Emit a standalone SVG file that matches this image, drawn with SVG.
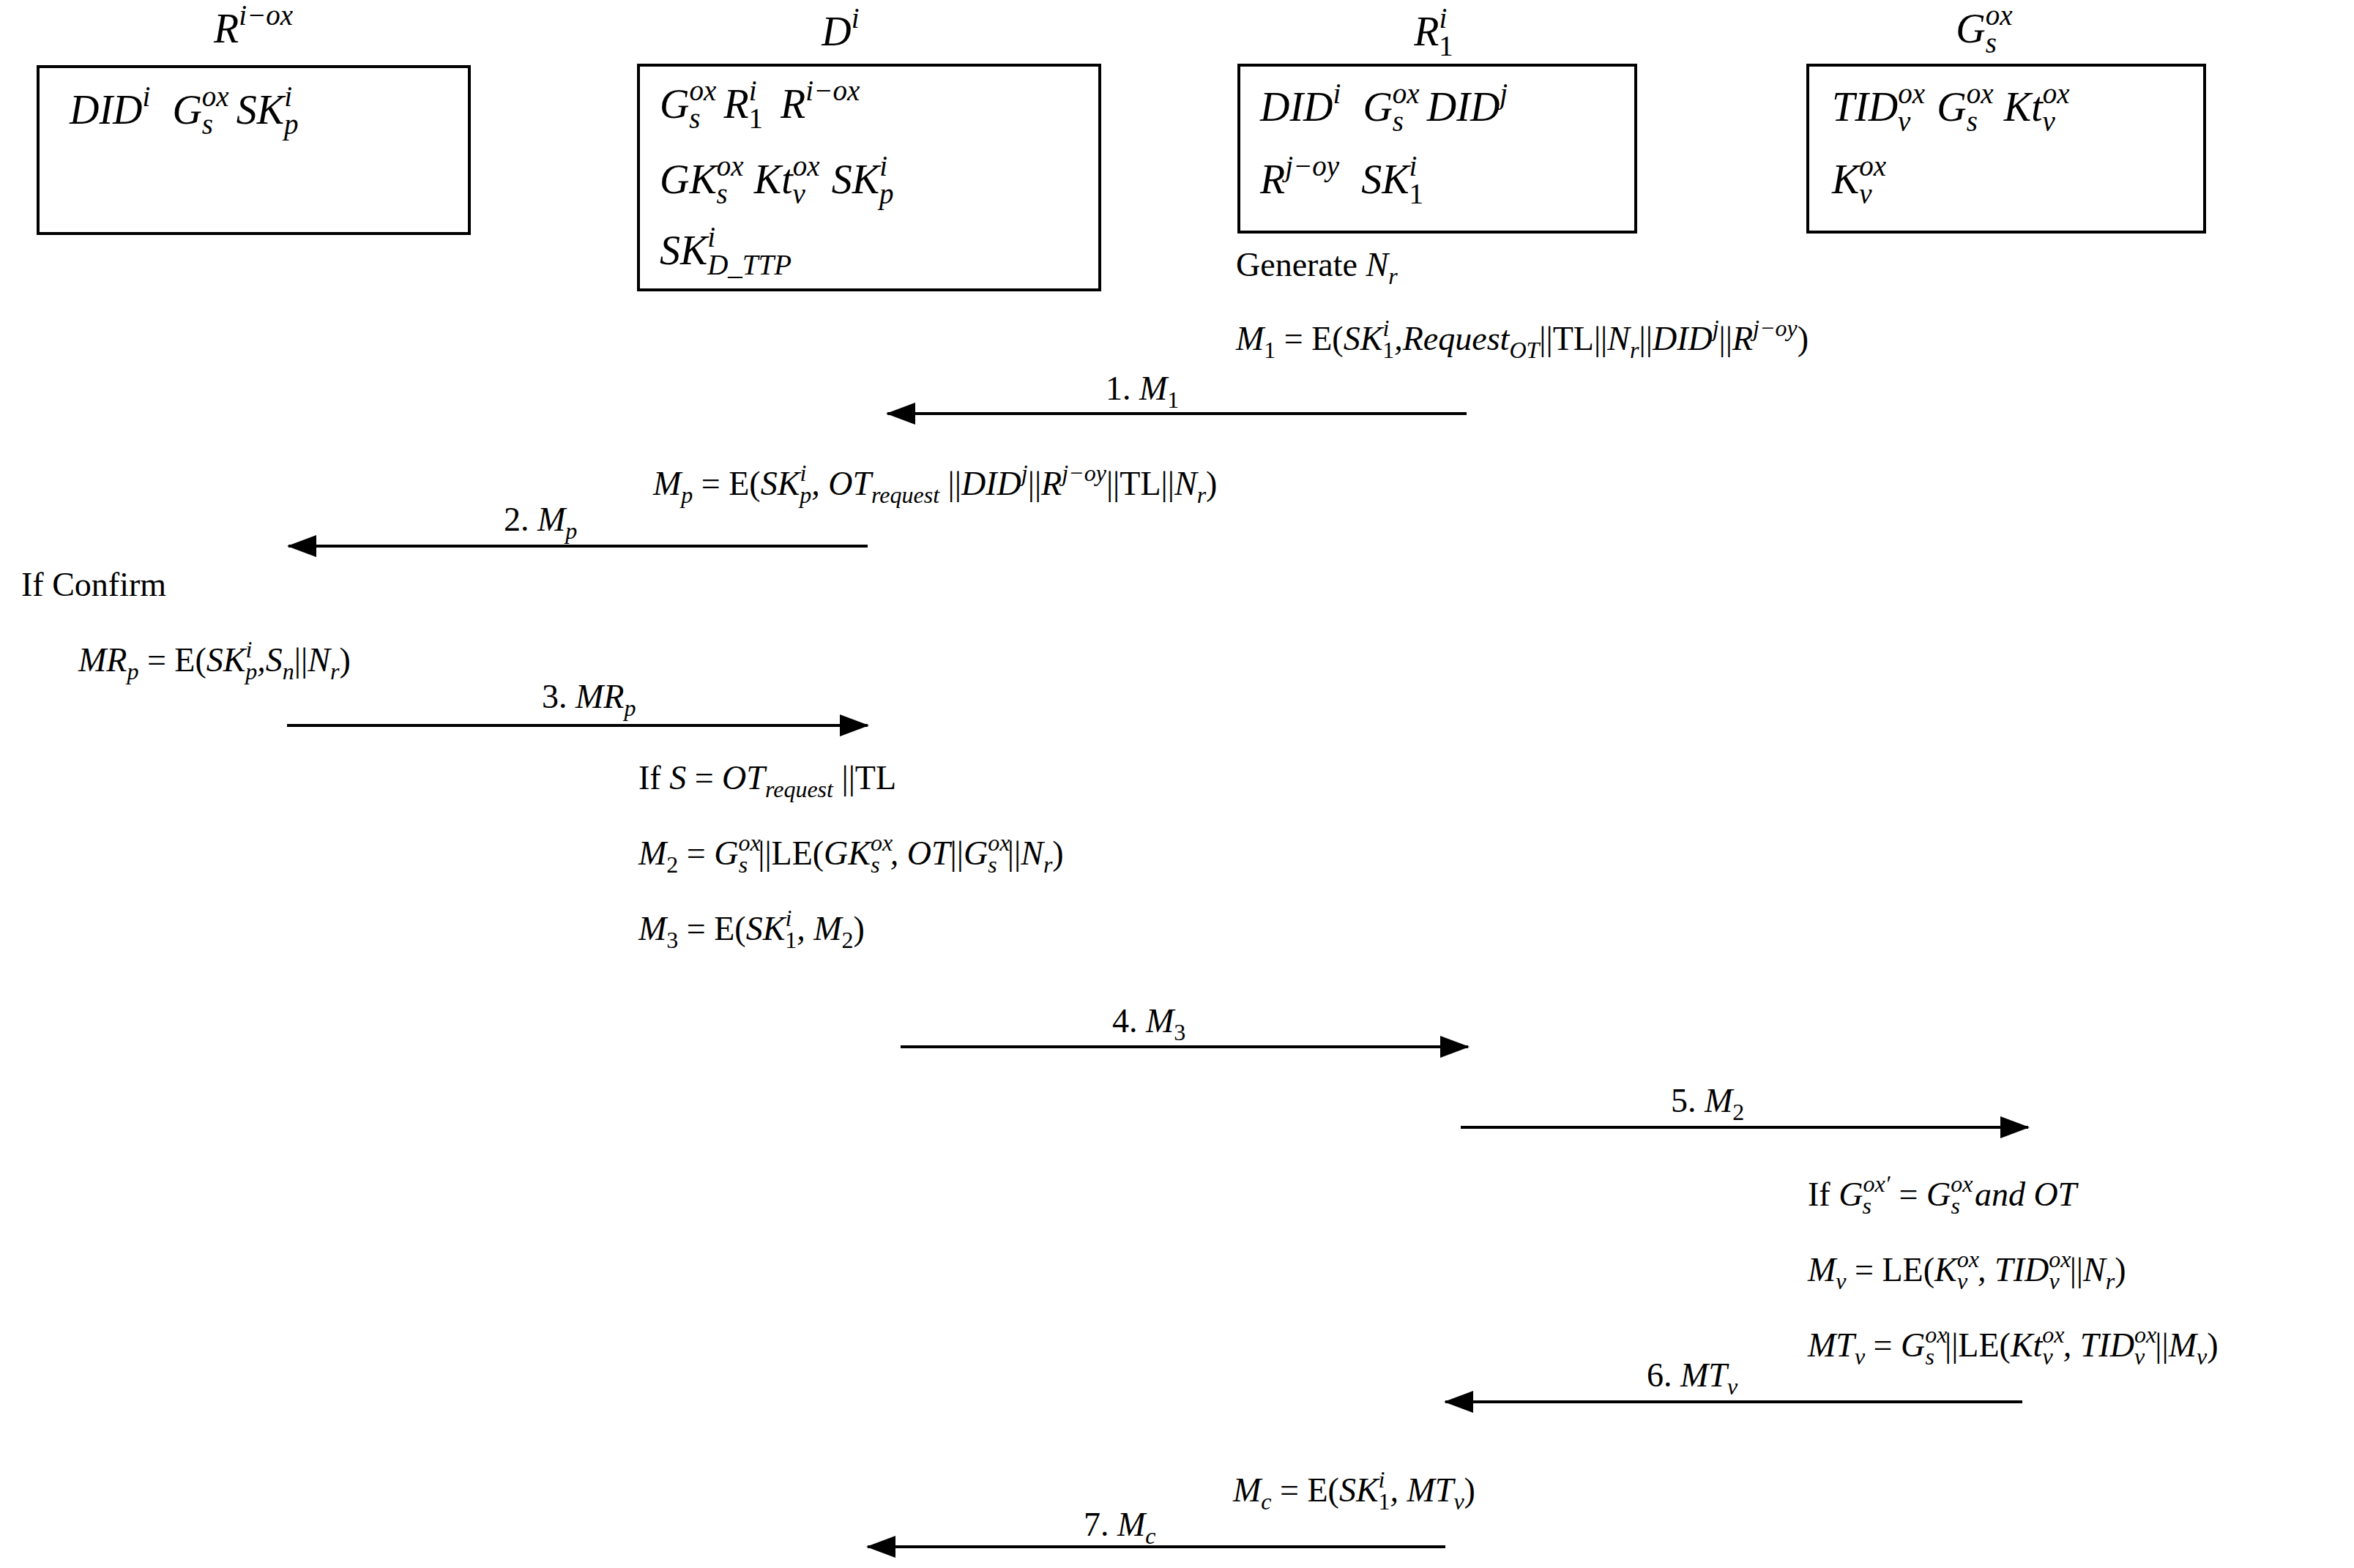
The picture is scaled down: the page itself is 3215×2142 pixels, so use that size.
<svg xmlns="http://www.w3.org/2000/svg" width="3215" height="2142" viewBox="0 0 3215 2142">
<style>
text{font-family:"Liberation Serif",serif;fill:#000;font-style:italic}
.b{font-size:56px}
.e{font-size:46px}
.s{font-size:39px}
.t{font-size:32px}
.u{font-style:normal}
.box{fill:#fff;stroke:#000;stroke-width:4}
.arr{stroke:#000;stroke-width:4;fill:none;marker-end:url(#ah)}
</style>
<defs>
<marker id="ah" markerUnits="userSpaceOnUse" markerWidth="40" markerHeight="30" refX="38" refY="15" orient="auto"><path d="M0,0 L40,15 L0,30 Z" fill="#000"/></marker>
</defs>
<g id="node-R-iox">
<text class="b" x="346" y="58" text-anchor="middle">R<tspan class="s" dy="-24">i−ox</tspan></text>
<rect class="box" x="52" y="91" width="589" height="228"/>
<text class="b" x="95" y="169">DID<tspan class="s" dy="-24">i</tspan><tspan dx="30" dy="24">G</tspan><tspan class="s" dy="-24">ox</tspan><tspan class="s" dx="-37" dy="38">s</tspan><tspan dx="32" dy="-14">SK</tspan><tspan class="s" dy="-24">i</tspan><tspan class="s" dx="-11" dy="38">p</tspan></text>
</g>
<g id="node-D">
<text class="b" x="1148" y="62" text-anchor="middle">D<tspan class="s" dy="-24">i</tspan></text>
<rect class="box" x="872" y="89" width="630" height="307"/>
<text class="b" x="901" y="161">G<tspan class="s" dy="-24">ox</tspan><tspan class="s" dx="-37" dy="38">s</tspan><tspan dx="32" dy="-14">R</tspan><tspan class="s" dy="-24">i</tspan><tspan class="s u" dx="-11" dy="38">1</tspan><tspan dx="24" dy="-14">R</tspan><tspan class="s" dy="-24">i−ox</tspan></text>
<text class="b" x="901" y="264">GK<tspan class="s" dy="-24">ox</tspan><tspan class="s" dx="-37" dy="38">s</tspan><tspan dx="36" dy="-14">Kt</tspan><tspan class="s" dy="-24">ox</tspan><tspan class="s" dx="-37" dy="38">v</tspan><tspan dx="36" dy="-14">SK</tspan><tspan class="s" dy="-24">i</tspan><tspan class="s" dx="-11" dy="38">p</tspan></text>
<text class="b" x="901" y="361">SK<tspan class="s" dy="-24">i</tspan><tspan class="s" dx="-11" dy="38">D_TTP</tspan></text>
</g>
<g id="node-R1">
<text class="b" x="1958" y="62" text-anchor="middle">R<tspan class="s" dy="-24">i</tspan><tspan class="s u" dx="-11" dy="38">1</tspan></text>
<rect class="box" x="1692" y="89" width="542" height="228"/>
<text class="b" x="1721" y="165">DID<tspan class="s" dy="-24">i</tspan><tspan dx="30" dy="24">G</tspan><tspan class="s" dy="-24">ox</tspan><tspan class="s" dx="-37" dy="38">s</tspan><tspan dx="32" dy="-14">DID</tspan><tspan class="s" dy="-24">j</tspan></text>
<text class="b" x="1721" y="264">R<tspan class="s" dy="-24">j−oy</tspan><tspan dx="30" dy="24">SK</tspan><tspan class="s" dy="-24">i</tspan><tspan class="s u" dx="-11" dy="38">1</tspan></text>
<text class="e" x="1688" y="377"><tspan class="u">Generate </tspan>N<tspan class="t" dy="11">r</tspan></text>
<text class="e" x="1688" y="478">M<tspan class="t u" dy="11">1</tspan><tspan class="u" dy="-11"> = E(</tspan>SK<tspan class="t" dy="-19">i</tspan><tspan class="t u" dx="-9" dy="30">1</tspan><tspan dy="-11">,Request</tspan><tspan class="t" dy="11">OT</tspan><tspan class="u" dy="-11">||TL||</tspan>N<tspan class="t" dy="11">r</tspan><tspan class="u" dy="-11">||</tspan>DID<tspan class="t" dy="-19">j</tspan><tspan class="u" dy="19">||</tspan>R<tspan class="t" dy="-19">j−oy</tspan><tspan class="u" dy="19">)</tspan></text>
</g>
<g id="node-G">
<text class="b" x="2710" y="58" text-anchor="middle">G<tspan class="s" dy="-24">ox</tspan><tspan class="s" dx="-37" dy="38">s</tspan></text>
<rect class="box" x="2469" y="89" width="542" height="228"/>
<text class="b" x="2502" y="165">TID<tspan class="s" dy="-24">ox</tspan><tspan class="s" dx="-37" dy="38">v</tspan><tspan dx="36" dy="-14">G</tspan><tspan class="s" dy="-24">ox</tspan><tspan class="s" dx="-37" dy="38">s</tspan><tspan dx="36" dy="-14">Kt</tspan><tspan class="s" dy="-24">ox</tspan><tspan class="s" dx="-37" dy="38">v</tspan></text>
<text class="b" x="2502" y="264">K<tspan class="s" dy="-24">ox</tspan><tspan class="s" dx="-37" dy="38">v</tspan></text>
</g>
<g id="annotations">
<text class="e" x="892" y="676">M<tspan class="t" dy="11">p</tspan><tspan class="u" dy="-11"> = E(</tspan>SK<tspan class="t" dy="-19">i</tspan><tspan class="t" dx="-9" dy="30">p</tspan><tspan dy="-11">, OT</tspan><tspan class="t" dy="11">request</tspan><tspan class="u" dy="-11"> ||</tspan>DID<tspan class="t" dy="-19">j</tspan><tspan class="u" dy="19">||</tspan>R<tspan class="t" dy="-19">j−oy</tspan><tspan class="u" dy="19">||TL||</tspan>N<tspan class="t" dy="11">r</tspan><tspan class="u" dy="-11">)</tspan></text>
<text class="e u" x="29" y="814">If Confirm</text>
<text class="e" x="107" y="917">MR<tspan class="t" dy="11">p</tspan><tspan class="u" dy="-11"> = E(</tspan>SK<tspan class="t" dy="-19">i</tspan><tspan class="t" dx="-9" dy="30">p</tspan><tspan dy="-11">,S</tspan><tspan class="t" dy="11">n</tspan><tspan class="u" dy="-11">||</tspan>N<tspan class="t" dy="11">r</tspan><tspan class="u" dy="-11">)</tspan></text>
<text class="e" x="872" y="1078"><tspan class="u">If  </tspan>S<tspan class="u"> = </tspan>OT<tspan class="t" dy="11">request</tspan><tspan class="u" dy="-11"> ||TL</tspan></text>
<text class="e" x="872" y="1181">M<tspan class="t u" dy="11">2</tspan><tspan class="u" dy="-11"> = </tspan>G<tspan class="t" dy="-19">ox</tspan><tspan class="t" dx="-30" dy="30">s</tspan><tspan class="u" dx="14" dy="-11">||LE(</tspan>GK<tspan class="t" dy="-19">ox</tspan><tspan class="t" dx="-30" dy="30">s</tspan><tspan dx="14" dy="-11">, OT</tspan><tspan class="u">||</tspan>G<tspan class="t" dy="-19">ox</tspan><tspan class="t" dx="-30" dy="30">s</tspan><tspan class="u" dx="14" dy="-11">||</tspan>N<tspan class="t" dy="11">r</tspan><tspan class="u" dy="-11">)</tspan></text>
<text class="e" x="872" y="1284">M<tspan class="t u" dy="11">3</tspan><tspan class="u" dy="-11"> = E(</tspan>SK<tspan class="t" dy="-19">i</tspan><tspan class="t u" dx="-9" dy="30">1</tspan><tspan dy="-11">, M</tspan><tspan class="t u" dy="11">2</tspan><tspan class="u" dy="-11">)</tspan></text>
<text class="e" x="2469" y="1647"><tspan class="u">If  </tspan>G<tspan class="t" dy="-19">ox′</tspan><tspan class="t" dx="-38" dy="30">s</tspan><tspan class="u" dx="26" dy="-11"> = </tspan>G<tspan class="t" dy="-19">ox</tspan><tspan class="t" dx="-30" dy="30">s</tspan><tspan dx="20" dy="-11">and  OT</tspan></text>
<text class="e" x="2469" y="1750">M<tspan class="t" dy="11">v</tspan><tspan class="u" dy="-11"> = LE(</tspan>K<tspan class="t" dy="-19">ox</tspan><tspan class="t" dx="-30" dy="30">v</tspan><tspan dx="14" dy="-11">, TID</tspan><tspan class="t" dy="-19">ox</tspan><tspan class="t" dx="-30" dy="30">v</tspan><tspan class="u" dx="14" dy="-11">||</tspan>N<tspan class="t" dy="11">r</tspan><tspan class="u" dy="-11">)</tspan></text>
<text class="e" x="2469" y="1853">MT<tspan class="t" dy="11">v</tspan><tspan class="u" dy="-11"> = </tspan>G<tspan class="t" dy="-19">ox</tspan><tspan class="t" dx="-30" dy="30">s</tspan><tspan class="u" dx="14" dy="-11">||LE(</tspan>Kt<tspan class="t" dy="-19">ox</tspan><tspan class="t" dx="-30" dy="30">v</tspan><tspan dx="14" dy="-11">, TID</tspan><tspan class="t" dy="-19">ox</tspan><tspan class="t" dx="-30" dy="30">v</tspan><tspan class="u" dx="14" dy="-11">||</tspan>M<tspan class="t" dy="11">v</tspan><tspan class="u" dy="-11">)</tspan></text>
<text class="e" x="1684" y="2051">M<tspan class="t" dy="11">c</tspan><tspan class="u" dy="-11"> = E(</tspan>SK<tspan class="t" dy="-19">i</tspan><tspan class="t u" dx="-9" dy="30">1</tspan><tspan dy="-11">, MT</tspan><tspan class="t" dy="11">v</tspan><tspan class="u" dy="-11">)</tspan></text>
</g>
<g id="connectors">
<line class="arr" x1="2003" y1="565" x2="1212" y2="565"/>
<text class="e" x="1510" y="546"><tspan class="u">1. </tspan>M<tspan class="t u" dy="11">1</tspan></text>
<line class="arr" x1="1185" y1="746" x2="394" y2="746"/>
<text class="e" x="688" y="725"><tspan class="u">2. </tspan>M<tspan class="t" dy="11">p</tspan></text>
<line class="arr" x1="392" y1="991" x2="1185" y2="991"/>
<text class="e" x="740" y="967"><tspan class="u">3. </tspan>MR<tspan class="t" dy="11">p</tspan></text>
<line class="arr" x1="1230" y1="1430" x2="2005" y2="1430"/>
<text class="e" x="1519" y="1410"><tspan class="u">4. </tspan>M<tspan class="t u" dy="11">3</tspan></text>
<line class="arr" x1="1995" y1="1540" x2="2770" y2="1540"/>
<text class="e" x="2282" y="1519"><tspan class="u">5. </tspan>M<tspan class="t u" dy="11">2</tspan></text>
<line class="arr" x1="2762" y1="1915" x2="1974" y2="1915"/>
<text class="e" x="2249" y="1894"><tspan class="u">6. </tspan>MT<tspan class="t" dy="11">v</tspan></text>
<line class="arr" x1="1974" y1="2113" x2="1185" y2="2113"/>
<text class="e" x="1480" y="2098"><tspan class="u">7. </tspan>M<tspan class="t" dy="11">c</tspan></text>
</g>
</svg>
